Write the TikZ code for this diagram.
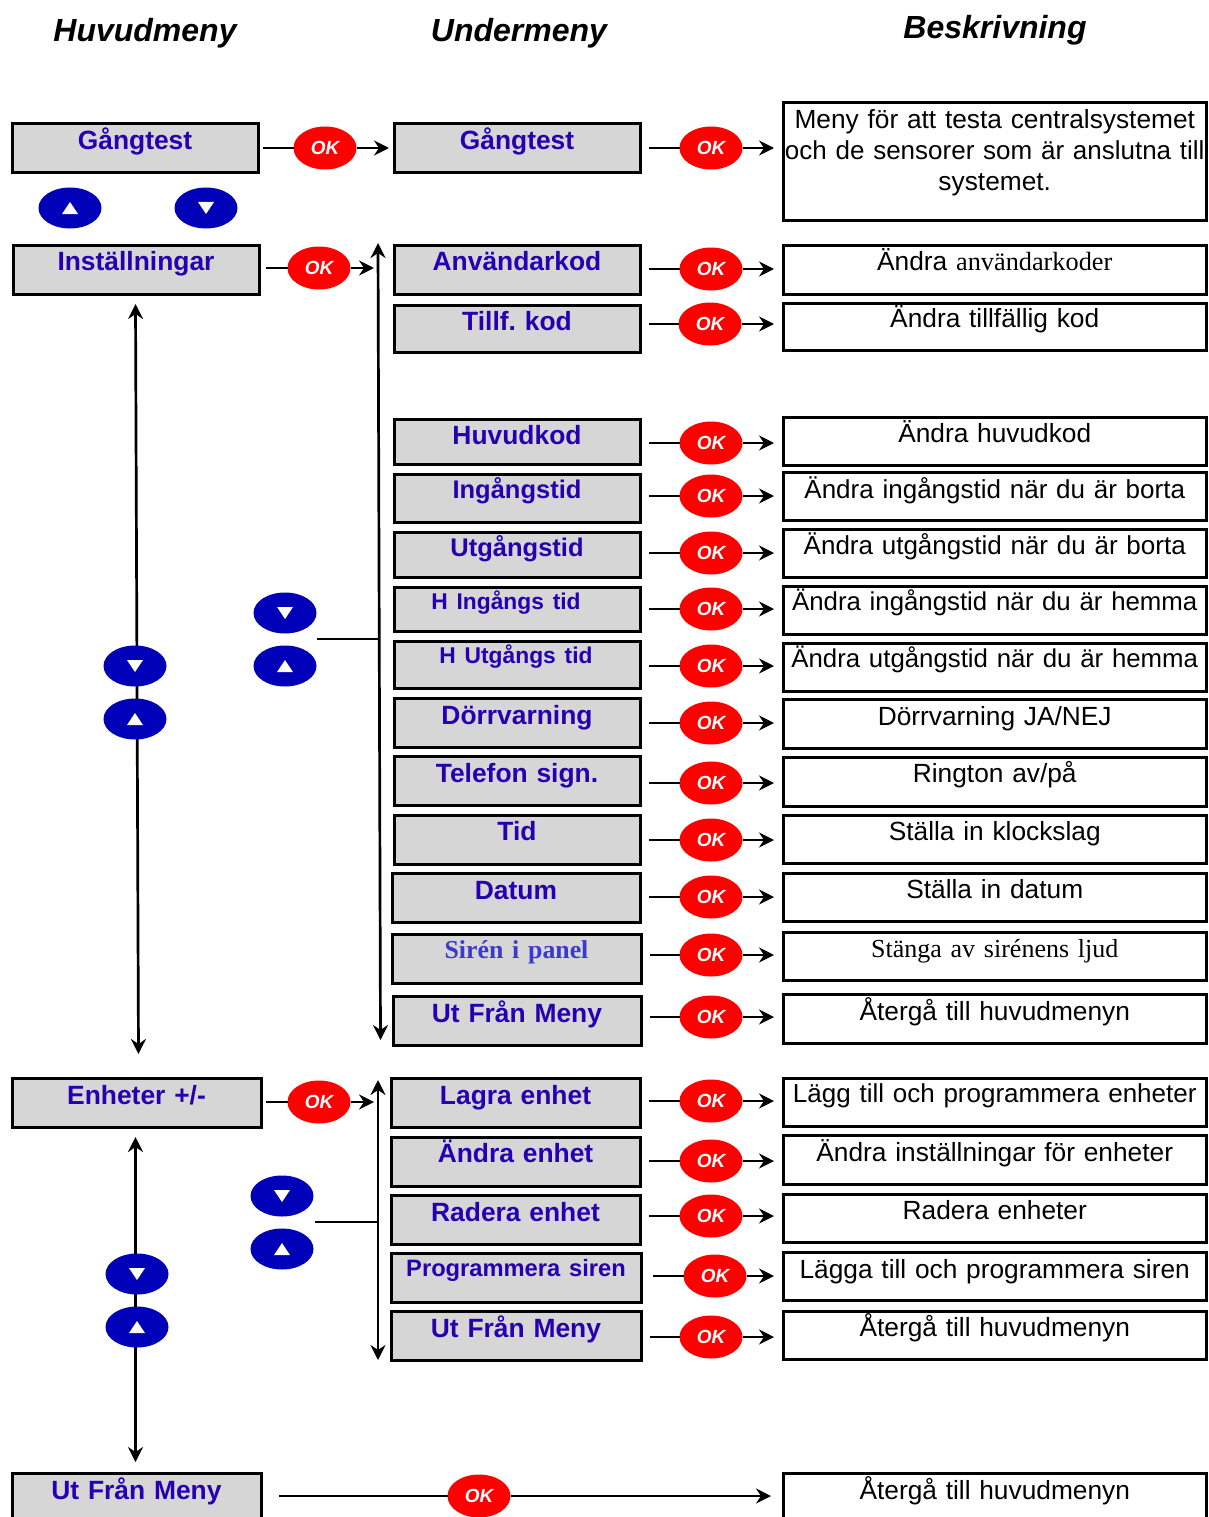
\documentclass[tikz,border=0pt]{standalone}
\usepackage{fontspec}
\setmainfont{Liberation Sans}
\newfontfamily\serifface{Liberation Serif}
\usetikzlibrary{arrows.meta,calc,shapes.geometric}
\definecolor{menublue}{HTML}{2600B0}
\definecolor{sirenblue}{HTML}{3A3ACC}
\definecolor{boxgray}{HTML}{D6D6D6}
\definecolor{keyblue}{HTML}{0000B8}
\tikzset{
  x=1pt,y=-1pt,
  ln/.style={line width=2.7pt,draw=black},
  arr/.style={ln,-{Stealth[length=15pt,width=15pt,inset=5pt]}},
  dbl/.style={ln,{Stealth[length=15pt,width=15pt,inset=5pt]}-{Stealth[length=15pt,width=15pt,inset=5pt]}},
  boxbase/.style={draw=black,line width=3pt,inner sep=0pt,outer sep=0pt,align=center},
  menubox/.style={boxbase,fill=boxgray,text=menublue,font=\fontsize{26.4}{31}\selectfont\bfseries\frenchspacing},
  descbox/.style={boxbase,fill=white,text=black,font=\fontsize{26.3}{31}\selectfont\frenchspacing},
  okkey/.style={ellipse,fill=red,inner sep=0pt,outer sep=0pt,minimum width=63pt,minimum height=43pt,text=white,font=\fontsize{19}{20}\selectfont\bfseries\itshape},
  navkey/.style={ellipse,fill=keyblue,inner sep=0pt,outer sep=0pt,minimum width=63pt,minimum height=41pt},
  heading/.style={anchor=base,font=\fontsize{32}{36}\selectfont\bfseries\itshape,inner sep=0pt}
}
\newcommand\bx[8]{% style,name,x1,y1,x2,y2,baseline,text
  \pgfmathsetmacro\bxw{#5-#3-2}
  \pgfmathsetmacro\bxh{#7-#4-1}
  \pgfmathsetmacro\bxd{#6-#7-1}
  \node[#1,text width=\bxw pt,text height=\bxh pt,text depth=\bxd pt] (#2) at ({(#3+#5)/2},{(#4+#6)/2}) {#8};
}
\newcommand\okat[3]{\node[okkey] (#1) at (#2,{#3+1}) {OK};}
\newcommand\conn[5]{% from,gap,ok,to,shorten
  \draw[ln] ($(#1.east |- #3)+(#2,0)$) -- (#3);
  \draw[arr,shorten >=#5pt] (#3) -- (#3 -| #4.west);
}
\newcommand\upkey[3]{\node[navkey] (#1) at (#2,#3) {};
  \fill[white] ($(#1)+(-8,6)$) -- ($(#1)+(8,6)$) -- ($(#1)+(0,-6)$) -- cycle;}
\newcommand\downkey[3]{\node[navkey] (#1) at (#2,#3) {};
  \fill[white] ($(#1)+(-8,-6)$) -- ($(#1)+(8,-6)$) -- ($(#1)+(0,6)$) -- cycle;}
\newcommand\ser[1]{{\serifface #1}}
\newcommand\fs[1]{\fontsize{#1}{31}\selectfont}
\begin{document}
\begin{tikzpicture}
\useasboundingbox (0,0) rectangle (1208,1517);
\node[heading] (h1) at (145,42) {Huvudmeny};
\node[heading] (h2) at (519,42) {Undermeny};
\node[heading] (h3) at (995,39) {Beskrivning};
% left column
\bx{menubox}{l1}{11}{123}{259}{174}{150}{Gångtest}
\bx{menubox}{l2}{12}{244}{260}{295}{270}{Inställningar}
\bx{menubox}{l3}{11}{1077}{262}{1128}{1104}{Enheter +/-}
\bx{menubox}{l4}{11}{1472}{262}{1530}{1499}{Ut Från Meny}
% middle column
\bx{menubox}{m1}{393}{123}{641}{174}{150}{Gångtest}
\bx{menubox}{m2}{393}{244}{641}{295}{270}{Användarkod}
\bx{menubox}{m3}{393}{304}{641}{353}{330}{Tillf. kod}
\bx{menubox}{m4}{393}{418}{641}{465}{444}{Huvudkod}
\bx{menubox}{m5}{393}{473}{641}{523}{498}{\fs{25.5}Ingångstid}
\bx{menubox}{m6}{393}{531}{641}{578}{556}{\fs{25.5}Utgångstid}
\bx{menubox}{m7}{393}{586}{641}{632}{609}{\hspace*{-22pt}\fs{22.8}H Ingångs tid}
\bx{menubox}{m8}{393}{640}{641}{689}{663}{\hspace*{-2pt}\fs{22.8}H Utgångs tid}
\bx{menubox}{m9}{393}{697}{641}{748}{724}{Dörrvarning}
\bx{menubox}{m10}{393}{755}{641}{806}{782}{Telefon sign.}
\bx{menubox}{m11}{393}{814}{641}{865}{840}{Tid}
\bx{menubox}{m12}{391}{872}{641}{923}{899}{Datum}
\bx{menubox}{m13}{391}{933}{642}{984}{958}{\fs{25.8}\serifface\color{sirenblue}Sirén i panel}
\bx{menubox}{m14}{392}{995}{642}{1046}{1022}{Ut Från Meny}
\bx{menubox}{m15}{390}{1077}{641}{1128}{1104}{Lagra enhet}
\bx{menubox}{m16}{390}{1136}{641}{1187}{1162}{Ändra enhet}
\bx{menubox}{m17}{390}{1194}{641}{1245}{1221}{Radera enhet}
\bx{menubox}{m18}{390}{1252}{642}{1303}{1276}{\fs{23.7}Programmera siren}
\bx{menubox}{m19}{390}{1310}{642}{1361}{1337}{Ut Från Meny}
% description column
\bx{descbox}{d1}{782}{102}{1207.5}{221}{129}{Meny för att testa centralsystemet\\\makebox[\linewidth][c]{\fs{26}och de sensorer som är anslutna till}\\systemet.}
\bx{descbox}{d2}{782}{244}{1207.5}{295}{270}{Ändra \ser{användarkoder}}
\bx{descbox}{d3}{782}{302}{1207.5}{351}{327}{Ändra tillfällig kod}
\bx{descbox}{d4}{782}{416}{1207.5}{466}{442}{Ändra huvudkod}
\bx{descbox}{d5}{782}{471}{1207.5}{521}{498}{\fs{26}Ändra ingångstid när du är borta}
\bx{descbox}{d6}{782}{528}{1207.5}{578}{554}{\fs{26}Ändra utgångstid när du är borta}
\bx{descbox}{d7}{782}{585}{1207.5}{635}{610}{\fs{25.8}Ändra ingångstid när du är hemma}
\bx{descbox}{d8}{782}{642}{1207.5}{692}{667}{\fs{25.8}Ändra utgångstid när du är hemma}
\bx{descbox}{d9}{782}{698}{1207.5}{749}{725}{Dörrvarning JA/NEJ}
\bx{descbox}{d10}{782}{756}{1207.5}{807}{782}{Rington av/på}
\bx{descbox}{d11}{782}{814}{1207.5}{864}{840}{Ställa in klockslag}
\bx{descbox}{d12}{782}{872}{1207.5}{922}{898}{Ställa in datum}
\bx{descbox}{d13}{782}{931}{1207.5}{981}{957}{\fs{26}\serifface Stänga av sirénens ljud}
\bx{descbox}{d14}{782}{993}{1207.5}{1044}{1020}{Återgå till huvudmenyn}
\bx{descbox}{d15}{782}{1077}{1207.5}{1127}{1102}{\fs{26}Lägg till och programmera enheter}
\bx{descbox}{d16}{782}{1134}{1207.5}{1185}{1161}{Ändra inställningar för enheter}
\bx{descbox}{d17}{782}{1193}{1207.5}{1243}{1219}{Radera enheter}
\bx{descbox}{d18}{782}{1251}{1207.5}{1301}{1278}{Lägga till och programmera siren}
\bx{descbox}{d19}{782}{1310}{1207.5}{1360}{1336}{Återgå till huvudmenyn}
\bx{descbox}{d20}{782}{1472}{1207.5}{1530}{1499}{Återgå till huvudmenyn}
% vertical double arrows
\coordinate (va1) at (135.5,304);
\coordinate (vb1) at (138.5,1054);
\coordinate (va2) at (135.5,1137);
\coordinate (vb2) at (135.5,1462);
\coordinate (va3) at (378,243);
\coordinate (vb3) at (380.5,1040);
\coordinate (va4) at (378,1080);
\coordinate (vb4) at (378,1360);
\draw[dbl] (va1) -- (vb1);
\draw[dbl] (va2) -- (vb2);
\draw[dbl] (va3) -- (vb3);
\draw[dbl] (va4) -- (vb4);
\coordinate (st1) at (317,639);
\coordinate (en1) at (379.5,639);
\coordinate (st2) at (315,1222);
\coordinate (en2) at (378,1222);
\draw[ln] (st1) -- (en1);
\draw[ln] (st2) -- (en2);
% navigation keys
\upkey{k1}{70}{208}
\downkey{k2}{206}{208}
\downkey{k3}{285}{613}
\upkey{k4}{285}{666}
\downkey{k5}{135}{666}
\upkey{k6}{135}{719}
\downkey{k7}{282}{1196}
\upkey{k8}{282}{1249}
\downkey{k9}{137}{1274}
\upkey{k10}{137}{1327}
% OK keys, left
\okat{ol1}{325}{147}
\okat{ol2}{319}{267}
\okat{ol3}{319}{1101}
\okat{ol4}{479}{1495}
\conn{l1}{5}{ol1}{m1}{5}
\conn{l2}{7}{ol2}{m2}{20}
\conn{l3}{5}{ol3}{m15}{17}
\conn{l4}{18}{ol4}{d20}{12}
% OK keys, middle
\okat{o1}{711}{147}
\okat{o2}{711}{268}
\okat{o3}{710}{323}
\okat{o4}{711}{442}
\okat{o5}{711}{495}
\okat{o6}{711}{552}
\okat{o7}{711}{608}
\okat{o8}{711}{665}
\okat{o9}{711}{722}
\okat{o10}{711}{782}
\okat{o11}{711}{839}
\okat{o12}{711}{896}
\okat{o13}{711}{954}
\okat{o14}{711}{1016}
\okat{o15}{711}{1100}
\okat{o16}{711}{1160}
\okat{o17}{711}{1215}
\okat{o18}{715}{1275}
\okat{o19}{711}{1336}
\foreach \i in {1,...,17,19}{\conn{m\i}{9}{o\i}{d\i}{9}}
\conn{m18}{12}{o18}{d18}{9}
\end{tikzpicture}
\end{document}
